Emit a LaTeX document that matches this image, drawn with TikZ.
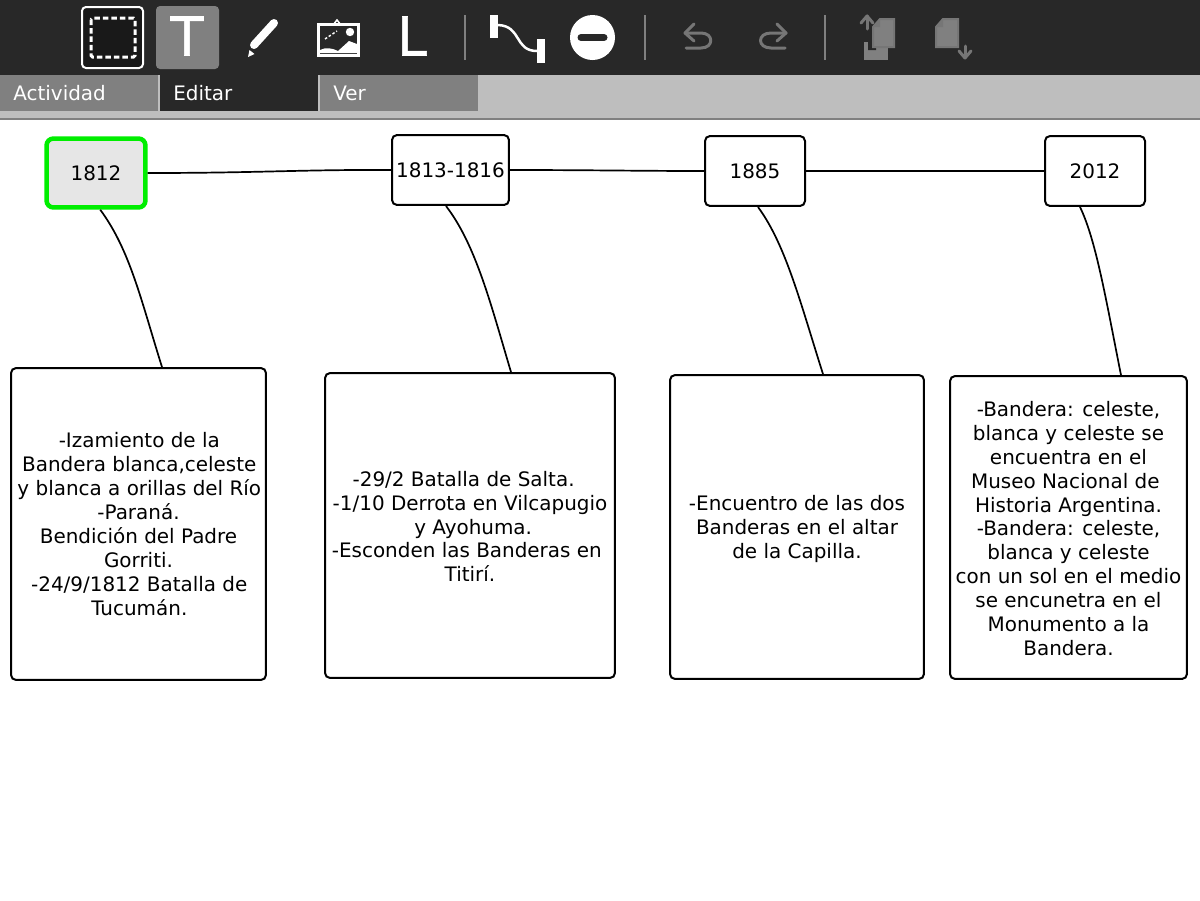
\documentclass[tikz,border=0pt]{standalone}
\usepackage{fontspec}
\setmainfont{DejaVu Sans}
\newfontfamily\iconfont[FakeBold=1.2]{DejaVu Sans}
\definecolor{bardark}{HTML}{282828}
\definecolor{tabgray}{HTML}{808080}
\definecolor{bandgray}{HTML}{BEBEBE}
\definecolor{selgreen}{HTML}{00EE00}
\definecolor{selfill}{HTML}{E6E6E6}
\definecolor{icongray}{HTML}{808080}
\definecolor{icondark}{HTML}{767676}
\tikzset{
  x=0.02cm,y=-0.02cm,
  px/.style={line width=#1*0.02cm},
  box/.style={draw=black,px=2,rounded corners=0.1cm,fill=white,align=center,inner sep=0pt,
    font=\fontsize{11.35}{13.6}\selectfont},
  lnk/.style={draw=black,px=1.7},
  tab/.style={anchor=base west,text=white,font=\fontsize{11.35}{13.6}\selectfont,inner sep=0pt},
  glyph/.style={text=white,inner sep=0pt,font=\iconfont\fontsize{30.5}{30.5}\selectfont},
  sepbar/.style={draw=icongray,px=2},
  arrowicon/.style={draw=icondark,px=3,line cap=round,line join=round},
  docicon/.style={fill=icongray,draw=icondark,px=2},
}
\begin{document}
\begin{tikzpicture}
\useasboundingbox (0,0) rectangle (1200,900);
\fill[white] (0,0) rectangle (1200,900);
% toolbar
\fill[bardark] (0,0) rectangle (1200,75);
\fill[bandgray] (0,75) rectangle (1200,118);
\fill[tabgray] (0,118) rectangle (1200,120);
\fill[tabgray] (0,75) rectangle (158,111);
\fill[bandgray] (158,75) rectangle (160,111);
\fill[bardark] (160,75) rectangle (318,111);
\fill[bandgray] (318,75) rectangle (320,111);
\fill[tabgray] (320,75) rectangle (478,111);
\node[tab] (tabA) at (13,100.5) {Actividad};
\node[tab] (tabE) at (173,100.5) {Editar};
\node[tab] (tabV) at (333,100.5) {Ver};
% select icon
\draw[white,px=2,fill=black!90,rounded corners=0.08cm] (82,7) rectangle (143,68);
\draw[white,px=3,dash pattern=on 0.11cm off 0.06cm,rounded corners=0.03cm] (91,18) rectangle (135,57);
% text tool
\fill[tabgray,rounded corners=0.08cm] (156,6) rectangle (219,69);
\node[glyph] (iconT) at (187,36) {T};
% pencil
\draw[white,px=8,line cap=round] (254,45) -- (274,23);
\fill[white] (248,57) -- (249.5,50) -- (254.5,54) -- cycle;
% image icon
\fill[white] (316.5,22.5) rectangle (360,56.5);
\fill[bardark] (319.5,25.5) rectangle (357,53.5);
\fill[white] (320,53) -- (320,50) .. controls (326,47) and (332,48) .. (338,51) -- (349,41) -- (357,44) -- (357,53) -- cycle;
\fill[white] (350,32) circle (4.2);
\draw[white,px=1.5] (333,25) -- (337,20) -- (341,25);
\draw[white,px=1.5,dash pattern=on 0.05cm off 0.04cm] (325,39) -- (337,31);
% L tool
\node[glyph] (iconL) at (412,36) {L};
% separators
\draw[sepbar] (465,15) -- (465,60);
\draw[sepbar] (645,15) -- (645,60);
\draw[sepbar] (825,15) -- (825,60);
% connector icon
\fill[white] (490,15) rectangle (498,38);
\fill[white] (537,39) rectangle (545,63);
\draw[white,px=2.5] (498,25) .. controls (522,26) and (514,51) .. (537,51);
% delete icon
\fill[white] (592.5,37.5) circle (22.5);
\draw[bardark,px=7,line cap=round] (581,37.5) -- (604,37.5);
% undo
\draw[arrowicon] (694,24) -- (685,33) -- (694,41);
\draw[arrowicon] (685,33) -- (701,33) .. controls (714,33) and (714,48) .. (701,48) -- (686,48);
% redo
\draw[arrowicon] (777,24) -- (786,33) -- (777,41);
\draw[arrowicon] (786,33) -- (771,33) .. controls (757,33) and (757,48) .. (771,48) -- (785,48);
% send-up icon
\fill[icongray] (864,42) rectangle (888,60);
\fill[bardark] (868,38) -- (876,27) -- (876,50) -- (868,50) -- cycle;
\draw[docicon] (880,19) -- (894,19) -- (894,47) -- (873,47) -- (873,27) -- cycle;
\fill[icondark] (880,19) -- (880,27) -- (873,27) -- cycle;
\draw[arrowicon] (867,29) -- (867,16);
\draw[arrowicon] (861,23) -- (867,16) -- (873,23);
% send-down icon
\draw[docicon] (943,19) -- (958,19) -- (958,47) -- (936,47) -- (936,27) -- cycle;
\fill[icondark] (943,19) -- (943,27) -- (936,27) -- cycle;
\draw[arrowicon] (965,46) -- (965,57);
\draw[arrowicon] (959,51) -- (965,58) -- (971,51);
% timeline nodes
\node[box,fill=selfill,draw=selgreen,px=4.5,rounded corners=0.14cm,minimum width=1.98cm,minimum height=1.38cm] (y1812) at (96,173) {1812};
\node[box,minimum width=2.34cm,minimum height=1.40cm] (y1813) at (450.5,170) {1813-1816};
\node[box,minimum width=2cm,minimum height=1.40cm] (y1885) at (755,171) {1885};
\node[box,minimum width=2cm,minimum height=1.40cm] (y2012) at (1095,171) {2012};
% description nodes
\node[box,minimum width=5.10cm,minimum height=6.24cm] (d1) at (138.5,524) {\hspace*{0.08em}-Izamiento de la\\\hspace*{0.08em}Bandera blanca,celeste\\\hspace*{0.08em}y blanca a orillas del Río\\-Paraná.\\Bendición del Padre\\Gorriti.\\\hspace*{0.08em}-24/9/1812 Batalla de\\\hspace*{0.08em}Tucumán.};
\node[box,minimum width=5.80cm,minimum height=6.10cm] (d2) at (470,525.5) {\rule{0pt}{0.86em}\hspace*{-0.32em}-29/2 Batalla de Salta.\hspace*{0.32em}\\-1/10 Derrota en Vilcapugio\\\hspace*{0.32em}y Ayohuma.\\\hspace*{-0.32em}-Esconden las Banderas en\hspace*{0.32em}\\Titirí.};
\node[box,minimum width=5.08cm,minimum height=6.08cm] (d3) at (797,527) {\rule{0pt}{0.96em}-Encuentro de las dos\\Banderas en el altar\\de la Capilla.};
\node[box,minimum width=4.74cm,minimum height=6.06cm] (d4) at (1068.5,527.5) {\rule{0pt}{0.86em}-Bandera: celeste,\\blanca y celeste se\\encuentra en el\\\hspace*{-0.32em}Museo Nacional de\hspace*{0.32em}\\Historia Argentina.\\-Bandera: celeste,\\blanca y celeste\\con un sol en el medio\\se encunetra en el\\Monumento a la\\Bandera.};
% connectors
\draw[lnk] (y1812.east) .. controls (260,173) and (300,169.5) .. (y1813.west);
\draw[lnk] (y1813.east) .. controls (590,170) and (640,171) .. (y1885.west);
\draw[lnk] (y1885.east) -- (y2012.west);
\draw[lnk] ([xshift=1.12cm]y1812.south west) .. controls (130,250) and (141,300) .. ([xshift=3.04cm]d1.north west);
\draw[lnk] ([xshift=1.10cm]y1813.south west) .. controls (476,245) and (491,305) .. ([xshift=3.74cm]d2.north west);
\draw[lnk] ([xshift=1.08cm]y1885.south west) .. controls (786,245) and (801,305) .. ([xshift=3.08cm]d3.north west);
\draw[lnk] ([xshift=0.72cm]y2012.south west) .. controls (1096,240) and (1106,300) .. ([xshift=3.44cm]d4.north west);
\end{tikzpicture}
\end{document}
